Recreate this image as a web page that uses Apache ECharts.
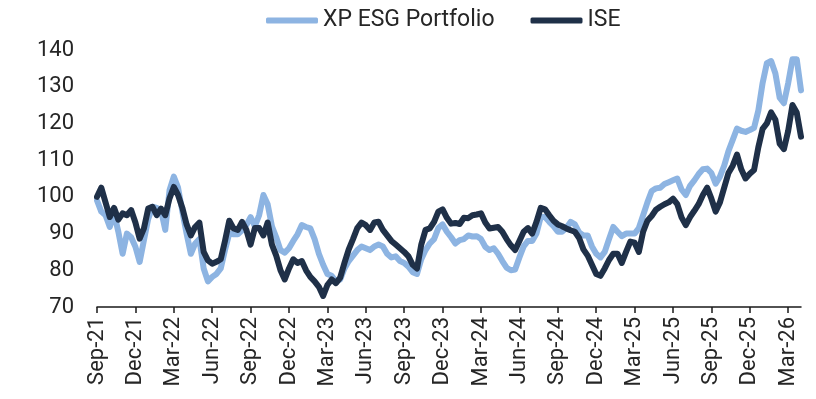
<!DOCTYPE html>
<html>
<head>
<meta charset="utf-8">
<script src="https://cdn.jsdelivr.net/npm/echarts@6/dist/echarts.min.js"></script>
<style>
  html, body { margin: 0; padding: 0; background: #fff; }
  #chart { width: 816px; height: 399px; }
</style>
</head>
<body>
<div id="chart"></div>
<script>
// Quarter labels shown along the time axis (one every 9 observations)
const quarterLabels = ['Sep-21', 'Dec-21', 'Mar-22', 'Jun-22', 'Sep-22', 'Dec-22', 'Mar-23', 'Jun-23',
  'Sep-23', 'Dec-23', 'Mar-24', 'Jun-24', 'Sep-24', 'Dec-24', 'Mar-25', 'Jun-25', 'Sep-25', 'Dec-25', 'Mar-26'];

// Observation dates: 1st, 11th and 21st of each month from Sep 2021
const obsDays = [1, 11, 21];
const firstYear = 2021, firstMonth = 8;

// Rebased performance (start = 100)
const xpEsg = [
  99, 96, 95, 91.8, 95.5, 90.5, 84.5, 90, 89, 86.4, 82.3, 88.2, 94, 97.3, 97, 96.4, 91, 101.8,
  105.5, 102.5, 96, 90, 84.5, 87.3, 88.5, 80.5, 77, 78.2, 79, 80.5, 85.5, 90, 89.8, 89.8, 90.9, 92.3,
  94.5, 92, 95, 100.5, 98, 92, 89, 85.5, 84.8, 86, 88, 89.8, 92.3, 91.8, 91.4, 88.5, 84.5, 81.5,
  79, 78.5, 77, 77.5, 80.5, 82.5, 84, 85.5, 86.5, 86, 85.5, 86.5, 87, 86.5, 84.5, 83.5, 83.8, 82.5,
  82, 81, 79.5, 79, 83, 85.5, 87.3, 88.5, 91.5, 92.5, 90.5, 89, 87.3, 88.2, 88.5, 89.5, 89.2, 89.3,
  88.5, 86.4, 85.5, 86, 84.5, 82.5, 80.7, 80, 80.2, 83.5, 86.5, 88, 88, 90, 94.5, 94.5, 93.2, 92,
  90.5, 90.5, 91.5, 93.2, 92.5, 90.3, 89.5, 89.5, 86.5, 84.5, 83.5, 85, 88.5, 91.8, 90.5, 89.3, 90, 90,
  90, 91.5, 95, 98.5, 101.6, 102.3, 102.5, 103.5, 104, 104.5, 105, 102, 100.5, 103, 104.5, 106.2, 107.5, 107.7,
  106.5, 103.6, 105.5, 108.5, 112.5, 115.5, 118.6, 118, 117.7, 118.2, 118.8, 123.5, 131, 136.4, 137, 133.6, 127, 125.5,
  131, 137.5, 137.5, 129
];
const ise = [
  100, 102.5, 98.5, 94.5, 97, 93.8, 95.5, 95, 96.4, 93, 88.6, 91.4, 96.8, 97.3, 95, 96.8, 95, 99.6,
  102.7, 100.5, 97, 92.5, 89.5, 91.8, 93, 85, 82.7, 81.8, 82.3, 83, 88, 93.5, 91.4, 91, 93.2, 91,
  87, 91.5, 91.5, 89.5, 93, 87, 84, 80, 77.5, 80.5, 83, 82, 82.5, 80, 78.2, 77, 75.5, 73,
  76, 77.5, 76.5, 78, 82, 85.7, 88.5, 91.5, 93, 92.3, 91, 93, 93.2, 91, 89.5, 88, 87, 86,
  85, 83.8, 81.5, 80.5, 87, 91, 91.4, 93.2, 96, 96.6, 94.3, 92.7, 92.9, 92.6, 94.3, 94.2, 95, 95.2,
  95.5, 93, 91.4, 91.6, 91.8, 90.5, 88.5, 86.8, 85.5, 88, 90.5, 91.5, 90, 93.2, 97, 96.6, 95, 93.5,
  92.5, 92, 91.4, 90.9, 90.5, 88.8, 85.7, 84, 81.5, 79, 78.5, 80.5, 82.8, 84.5, 84.5, 82, 85, 87.8,
  87.5, 85, 90.5, 93.5, 94.8, 96.5, 97.3, 98, 98.5, 99.5, 98, 94.4, 92.3, 94.5, 96.2, 98, 100.5, 102.5,
  99.5, 96, 98.5, 102.5, 106.5, 108.5, 111.5, 107.5, 105, 106.3, 107.3, 113.5, 118.5, 120, 123, 121, 114.5, 113,
  118, 125, 123, 116.4
];

const pad = n => (n < 10 ? '0' : '') + n;
const dates = xpEsg.map((_, i) => {
  const m = firstMonth + Math.floor(i / 3);
  const y = firstYear + Math.floor(m / 12);
  return y + '-' + pad((m % 12) + 1) + '-' + pad(obsDays[i % 3]);
});

const FONT = 'Roboto';
const chart = echarts.init(document.getElementById('chart'), null, { renderer: 'canvas' });

chart.setOption({
  animation: false,
  backgroundColor: '#ffffff',
  textStyle: { fontFamily: FONT },
  legend: {
    left: 261,
    top: 4,
    itemWidth: 52,
    itemHeight: 6,
    itemGap: 36,
    icon: 'roundRect',
    textStyle: { fontFamily: FONT, fontSize: 23, color: '#262626' },
    data: ['XP ESG Portfolio', 'ISE']
  },
  grid: { left: 97, right: 15, top: 50, bottom: 92, containLabel: false },
  xAxis: {
    type: 'category',
    data: dates,
    boundaryGap: false,
    axisLine: { show: true, lineStyle: { color: '#1a1a1a', width: 1.5 } },
    axisTick: {
      show: true,
      interval: (i) => i % 9 === 0,
      length: 6,
      lineStyle: { color: '#1a1a1a', width: 1.5 }
    },
    axisLabel: {
      interval: (i) => i % 9 === 0,
      rotate: 90,
      margin: 10,
      fontFamily: FONT,
      fontSize: 22,
      color: '#262626',
      formatter: (v, i) => quarterLabels[i / 9] || ''
    },
    splitLine: { show: false }
  },
  yAxis: {
    type: 'value',
    min: 70,
    max: 140,
    interval: 10,
    axisLine: { show: false },
    axisTick: { show: false },
    splitLine: { show: false },
    axisLabel: { margin: 23, fontFamily: FONT, fontSize: 22, color: '#262626' }
  },
  series: [
    {
      name: 'XP ESG Portfolio',
      type: 'line',
      data: xpEsg,
      showSymbol: false,
      symbol: 'none',
      color: '#8db4e2',
      lineStyle: { width: 6, color: '#8db4e2', cap: 'round', join: 'round' }
    },
    {
      name: 'ISE',
      type: 'line',
      data: ise,
      showSymbol: false,
      symbol: 'none',
      color: '#1f3048',
      lineStyle: { width: 6, color: '#1f3048', cap: 'round', join: 'round' }
    }
  ]
});
</script>
</body>
</html>
